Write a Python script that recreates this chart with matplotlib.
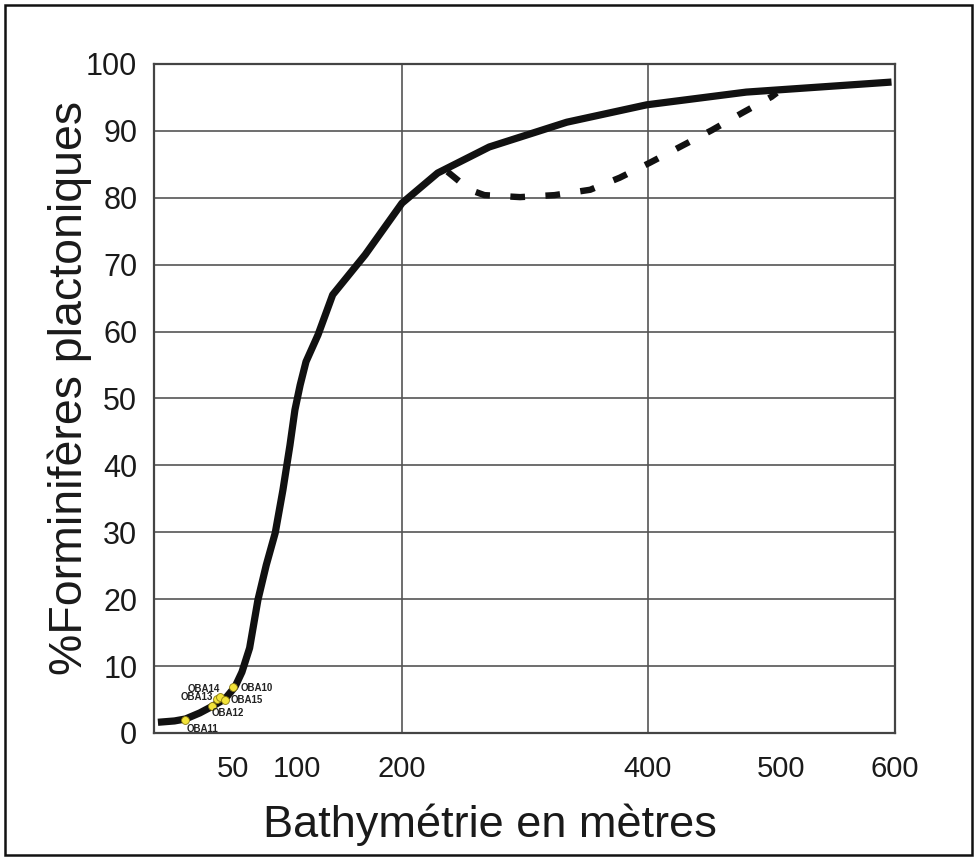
import numpy as np
import matplotlib
matplotlib.use('Agg')
import matplotlib.pyplot as plt
from matplotlib.patches import Rectangle

# ── Style ────────────────────────────────────────────────────────────────────
plt.rcParams.update({
    'font.family': ['Liberation Sans', 'DejaVu Sans'],
    'figure.facecolor': 'white',
})

# ── Data ─────────────────────────────────────────────────────────────────────
# depth axis is drawn on a hand-spaced scale: anchors -> fraction of axis width
depth_anchors = [0, 50, 100, 200, 400, 500, 600]
pos_anchors   = [0.0, 0.1066, 0.193, 0.3347, 0.6667, 0.846, 1.0]

# main curve (% planktonic foraminifera vs depth)
curve_depth = [2.5, 13, 20, 29, 37, 45, 51.6, 57, 63, 69.5, 76, 83, 89, 94.5,
               98.4, 103, 108.6, 120, 134, 165, 200, 229, 271, 334, 399, 474, 597]
curve_pct   = [1.6, 1.8, 2.1, 3.0, 4.0, 5.1, 6.9, 9.1, 12.7, 19.9, 25.1, 29.9,
               36.3, 43.0, 48.3, 52.0, 55.5, 59.5, 65.5, 71.5, 79.2, 83.7, 87.6,
               91.3, 93.9, 95.8, 97.3]

# alternative (dashed) branch
alt_depth = [237, 247, 255, 267, 296, 324, 353, 377, 401, 424, 448, 471, 493, 497]
alt_pct   = [83.9, 82.4, 81.2, 80.4, 80.1, 80.4, 81.2, 83.0, 85.2, 87.6, 90.1,
             92.7, 95.1, 95.7]

# samples
samples      = ['OBA11', 'OBA12', 'OBA13', 'OBA14', 'OBA15', 'OBA10']
sample_depth = [19.6, 36.7, 39.9, 41.5, 44.9, 50.0]
sample_pct   = [1.9, 4.0, 5.1, 5.4, 4.9, 6.9]

x_ticks = [50, 100, 200, 400, 500, 600]
y_ticks = list(range(0, 101, 10))


def fwd(d):
    return np.interp(d, depth_anchors, pos_anchors)


def inv(p):
    return np.interp(p, pos_anchors, depth_anchors)


# ── Plot ─────────────────────────────────────────────────────────────────────
fig = plt.figure(figsize=(9.77, 8.59), dpi=100)
ax = fig.add_axes([0.1576, 0.1467, 0.7584, 0.7788])
ax.set_xscale('function', functions=(fwd, inv))
ax.set_xlim(0, 600)
ax.set_ylim(0, 100)

grid_c = '#555555'
for y in y_ticks[1:-1]:
    ax.axhline(y, color=grid_c, lw=1.2, zorder=1)
for x in (200, 400):
    ax.axvline(x, color=grid_c, lw=1.2, zorder=1)

ax.plot(curve_depth, curve_pct, color='#111111', lw=5.2,
        solid_capstyle='butt', solid_joinstyle='round', zorder=3)
ax.plot(alt_depth, alt_pct, color='#111111', lw=4.6,
        ls=(0, (2.3, 3.2)), dash_capstyle='butt', zorder=3)

ax.scatter(sample_depth, sample_pct, s=32, color='#f2e33a',
           edgecolor='#8a7a10', linewidth=0.6, zorder=4)

offsets = {
    'OBA10': ((5.8, -0.7), 'left'),
    'OBA15': ((4.3, 0.0), 'left'),
    'OBA12': ((0.0, -4.6), 'left'),
    'OBA11': ((1.4, -6.0), 'left'),
    'OBA13': ((-3.0, 1.2), 'right'),
    'OBA14': ((-11.5, 6.0), 'center'),
}
for name, d, p in zip(samples, sample_depth, sample_pct):
    (dx, dy), ha = offsets[name]
    ax.annotate(name, (d, p), xytext=(dx, dy), textcoords='offset points',
                ha=ha, va='center', fontsize=7, fontweight='bold',
                color='#222222', zorder=5)

ax.set_xticks(x_ticks)
ax.set_xticklabels([str(t) for t in x_ticks], fontsize=21)
ax.set_yticks(y_ticks)
ax.set_yticklabels([str(t) for t in y_ticks], fontsize=22)
ax.tick_params(axis='both', length=0, colors='#1a1a1a')
ax.tick_params(axis='x', pad=16)
ax.tick_params(axis='y', pad=12)

for s in ax.spines.values():
    s.set_color('#444444')
    s.set_linewidth(1.6)

ax.set_xlabel('Bathymétrie en mètres', fontsize=32.5, color='#1a1a1a',
              va='center', ha='center')
ax.set_ylabel('%Forminifères plactoniques', fontsize=33.5, color='#1a1a1a',
              va='center', ha='center')
ax.xaxis.set_label_coords(0.453, -0.1375)
ax.yaxis.set_label_coords(-0.113, 0.516)

# outer frame
fig.patches.append(Rectangle((0.005, 0.005), 0.99, 0.989, transform=fig.transFigure,
                             fill=False, edgecolor='#111111', lw=1.8))

fig.savefig('out.png', dpi=100)
